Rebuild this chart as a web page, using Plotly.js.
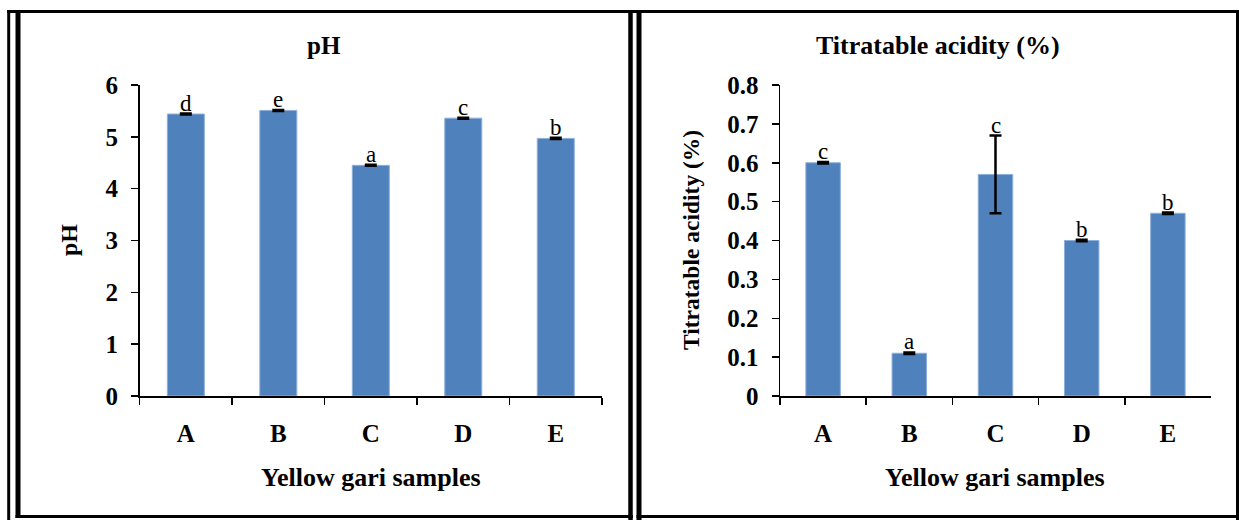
<!DOCTYPE html>
<html>
<head>
<meta charset="utf-8">
<script src="https://cdn.plot.ly/plotly-3.0.1.min.js"></script>
<style>html,body{margin:0;padding:0;background:#fff;}#chart{width:1239px;height:520px;}</style>
</head>
<body>
<div id="chart"></div>
<script>
// ---- data ----
const categories = ['A', 'B', 'C', 'D', 'E'];
const phValues = [5.44, 5.51, 4.45, 5.36, 4.97];
const phErrors = [0.01, 0.01, 0.01, 0.01, 0.01];
const phLetters = ['d', 'e', 'a', 'c', 'b'];
const taValues = [0.60, 0.11, 0.57, 0.40, 0.47];
const taErrors = [0.002, 0.002, 0.10, 0.002, 0.002];
const taLetters = ['c', 'a', 'c', 'b', 'b'];
const taTickVals = [0, 0.1, 0.2, 0.3, 0.4, 0.5, 0.6, 0.7, 0.8];
const taTickText = ['0', '0.1', '0.2', '0.3', '0.4', '0.5', '0.6', '0.7', '0.8'];
const phTitle = 'pH';
const taTitle = 'Titratable acidity (%)';
const xTitle = 'Yellow gari samples';
const phYTitle = 'pH';
const taYTitle = 'Titratable acidity (%)';

// ---- layout helpers ----
const W = 1239, H = 520;
const px = x => x / W;
const py = y => 1 - y / H;
const SERIF = '"Liberation Serif", "Times New Roman", Times, serif';
const BAR = '#4F81BD';

function barTrace(values, errors, xa, ya) {
  return {
    type: 'bar', x: categories, y: values, xaxis: xa, yaxis: ya,
    marker: {color: BAR, line: {color: '#8DB0DA', width: 1}},
    error_y: {type: 'data', array: errors, visible: true, color: '#000', thickness: 2.5, width: 6},
    hoverinfo: 'x+y', showlegend: false
  };
}

const tickFont = {family: SERIF, size: 25, color: '#000', weight: 'bold'};
function xAxis(domain, anchor) {
  return {
    domain: domain, anchor: anchor, type: 'category', range: [-0.5, 4.5],
    showline: true, linecolor: '#000', linewidth: 1.5, mirror: false,
    ticks: 'outside', tickson: 'boundaries', ticklen: 7, tickwidth: 1.5, tickcolor: '#000',
    showgrid: false, zeroline: false, tickfont: tickFont, ticklabelstandoff: 14,
    fixedrange: true
  };
}
function yAxis(domain, anchor, range, dtick) {
  return {
    domain: domain, anchor: anchor, range: range, dtick: dtick,
    showline: true, linecolor: '#000', linewidth: 1.5,
    ticks: 'outside', ticklen: 7, tickwidth: 1.5, tickcolor: '#000',
    showgrid: false, zeroline: false, tickfont: tickFont, ticklabelstandoff: 8,
    fixedrange: true
  };
}

const yDom = [py(396), py(85)];
const layout = {
  width: W, height: H,
  margin: {l: 0, r: 0, t: 0, b: 0, autoexpand: false},
  paper_bgcolor: '#fff', plot_bgcolor: '#fff',
  bargap: 0.6,
  font: {family: SERIF, color: '#000'},
  xaxis: xAxis([px(139.6), px(602)], 'y'),
  yaxis: yAxis(yDom, 'x', [0, 6], 1),
  xaxis2: xAxis([px(780), px(1211)], 'y2'),
  yaxis2: yAxis(yDom, 'x2', [0, 0.8], 0.1),
  annotations: [],
  shapes: []
};
layout.yaxis2.tickvals = taTickVals;
layout.yaxis2.ticktext = taTickText;

function textAnn(text, x, y, angle, size) {
  return {text: text, xref: 'paper', yref: 'paper', x: px(x), y: py(y),
          xanchor: 'center', yanchor: 'middle', showarrow: false, textangle: angle || 0,
          font: {family: SERIF, size: size, color: '#000', weight: 'bold'}};
}
layout.annotations.push(textAnn(phTitle, 324, 45, 0, 25));
layout.annotations.push(textAnn(taTitle, 938, 45, 0, 26));
layout.annotations.push(textAnn(xTitle, 371, 477, 0, 26));
layout.annotations.push(textAnn(xTitle, 995.5, 477, 0, 26));
layout.annotations.push(textAnn(phYTitle, 69, 240, -90, 24));
layout.annotations.push(textAnn(taYTitle, 691, 240, -90, 23.5));

function letterAnns(values, errors, letters, xa, ya) {
  return categories.map((c, i) => ({
    text: letters[i], x: c, y: values[i] + errors[i], xref: xa, yref: ya,
    xanchor: 'center', yanchor: 'bottom', showarrow: false, yshift: -4,
    font: {family: SERIF, size: 23, color: '#000'}
  }));
}
layout.annotations.push(...letterAnns(phValues, phErrors, phLetters, 'x', 'y'));
layout.annotations.push(...letterAnns(taValues, taErrors, taLetters, 'x2', 'y2'));

// frame lines
function line(x0, y0, x1, y1, w) {
  return {type: 'line', xref: 'paper', yref: 'paper', x0: px(x0), y0: py(y0), x1: px(x1), y1: py(y1),
          line: {color: '#000', width: w}};
}
layout.shapes.push(
  line(7, 11.5, 1239, 11.5, 3),
  line(8.7, 10, 8.7, 520, 3),
  line(18, 10, 18, 518, 5),
  line(15.5, 516.5, 633, 516.5, 3),
  line(630.5, 10, 630.5, 520, 4.5),
  line(639, 10, 639, 520, 5),
  line(636.5, 516.5, 1239, 516.5, 3),
  line(1237.5, 10, 1237.5, 520, 3)
);

const data = [
  barTrace(phValues, phErrors, 'x', 'y'),
  barTrace(taValues, taErrors, 'x2', 'y2')
];
Plotly.newPlot('chart', data, layout, {displayModeBar: false, staticPlot: true});
</script>
</body>
</html>
